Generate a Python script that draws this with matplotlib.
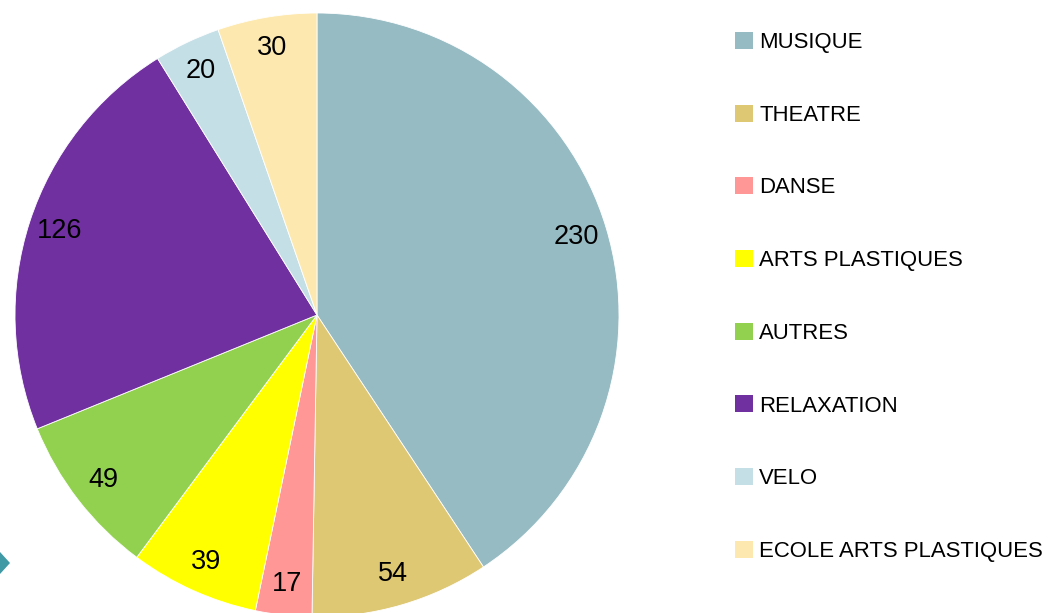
import matplotlib
matplotlib.use("Agg")
import matplotlib.pyplot as plt
from matplotlib.patches import Polygon, Patch

categories = ["MUSIQUE", "THEATRE", "DANSE", "ARTS PLASTIQUES", "AUTRES",
              "RELAXATION", "VELO", "ECOLE ARTS PLASTIQUES"]
values = [230, 54, 17, 39, 49, 126, 20, 30]
colors = ["#96BBC3", "#DEC874", "#FF9797", "#FFFF00", "#92D050",
          "#7030A0", "#C4DFE6", "#FDE9B0"]

W, H = 1048, 613
fig = plt.figure(figsize=(W / 100, H / 100), dpi=100)
ax = fig.add_axes([0, 0, 1, 1])

cx, cy, r = 317, H - 315, 302
wedges, texts, autotexts = ax.pie(
    values, colors=colors, startangle=90, counterclock=False,
    center=(cx, cy), radius=r,
    autopct=lambda p: f"{round(p * sum(values) / 100):d}",
    pctdistance=0.895,
    wedgeprops=dict(edgecolor="white", linewidth=0.6),
    textprops=dict(fontsize=19.5, family=["Liberation Sans", "DejaVu Sans"], color="black"),
)
ax.set_xlim(0, W)
ax.set_ylim(0, H)
ax.set_aspect("equal")
ax.axis("off")

# teal marker at the left edge
fig.patches.append(Polygon([(0, 1 - 552 / H), (10 / W, 1 - 563 / H), (0, 1 - 574 / H)],
                           closed=True, transform=fig.transFigure,
                           facecolor="#3F9AA5", edgecolor="none"))

handles = [Patch(facecolor=c, edgecolor="none") for c in colors]
leg = fig.legend(handles, categories, loc="upper left",
                 bbox_to_anchor=(735 / W, 1 - 32 / H), frameon=False,
                 prop=dict(family=["Liberation Sans", "DejaVu Sans"], size=15.9),
                 handlelength=0.8, handleheight=0.8, handletextpad=0.3,
                 labelspacing=2.335, borderaxespad=0, borderpad=0)

fig.savefig("out.png", dpi=100)
